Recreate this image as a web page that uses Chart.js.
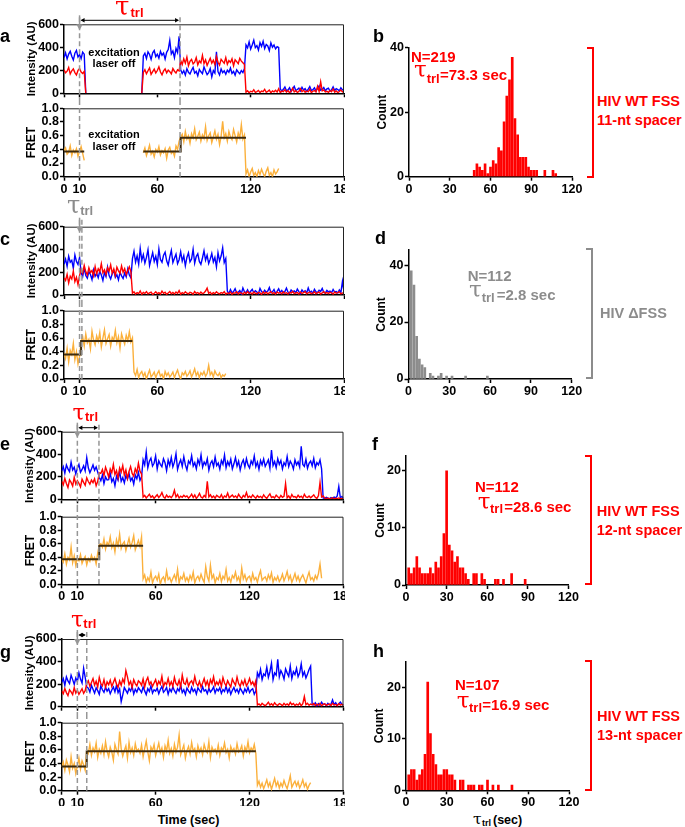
<!DOCTYPE html>
<html><head><meta charset="utf-8">
<script src="https://cdn.jsdelivr.net/npm/chart.js@4.4.1/dist/chart.umd.min.js"></script>
<style>
html,body{margin:0;padding:0;background:#fff;}
#fig{position:relative;width:685px;height:827px;overflow:hidden;font-family:"Liberation Sans",Arial,sans-serif;font-weight:bold;}
canvas{position:absolute;}
.t{position:absolute;white-space:nowrap;line-height:1;}
.br{position:absolute;box-sizing:border-box;border-left:none;}
</style></head><body><div id="fig"></div>
<script>
const _ = null;
const SAMPLE_SEC = 1;                 // trace sampling interval (s)
const timeTicks = [0,10,60,120,180];
const intTicks = [0,200,400,600];
const fretTicks = [0,0.2,0.4,0.6,0.8,1.0];
const histXTicks = [0,30,60,90,120];

// ---------- panel a ----------
const aBlue = [
310,352,298,341,365,322,289,348,372,315,
336,301,358,340,0,_,_,_,_,_,
_,_,_,_,_,_,_,_,_,_,
_,_,_,_,_,_,_,_,_,_,
_,_,_,_,_,_,_,_,_,_,
0,325,348,302,361,338,295,352,372,318,
340,306,365,331,349,298,356,380,460,343,
368,310,390,355,495,205,172,196,158,214,
183,168,201,226,175,190,152,208,187,171,
230,194,163,180,215,142,198,176,360,188,
160,212,179,195,166,201,183,220,172,190,
158,204,185,170,198,180,215,420,395,448,
385,420,462,398,415,376,440,408,452,390,
425,412,371,438,401,420,386,405,398,42,
18,35,55,22,30,48,15,38,60,25,
33,45,20,52,28,40,17,36,58,24,
31,47,19,42,65,27,35,50,22,38,
44,18,30,56,25,40,33,21,48,29,
35];
const aRed = [
205,178,192,225,168,196,212,180,160,199,
215,185,172,190,0,_,_,_,_,_,
_,_,_,_,_,_,_,_,_,_,
_,_,_,_,_,_,_,_,_,_,
_,_,_,_,_,_,_,_,_,_,
0,182,205,170,196,220,165,188,210,176,
198,230,185,160,195,212,178,202,188,168,
215,192,176,205,195,285,250,300,262,315,
240,278,295,255,270,310,248,282,265,330,
258,290,242,275,305,262,288,250,320,270,
245,296,278,262,310,252,284,268,300,240,
292,275,258,305,280,265,250,10,22,5,
18,12,30,8,15,25,6,20,14,35,
9,17,28,4,21,13,26,11,40,7,
19,15,32,10,24,6,18,45,12,22,
8,16,40,14,27,9,20,13,35,6,
18,24,11,60,15,100,22,30,12,17,
9,25,14,38,10,20,7,16,28,12,
18];
const aFret = [
.38,.42,.33,.36,.45,.31,.39,.35,.41,.30,
.37,.44,.34,.24,_,_,_,_,_,_,
_,_,_,_,_,_,_,_,_,_,
_,_,_,_,_,_,_,_,_,_,
_,_,_,_,_,_,_,_,_,_,
_,.35,.42,.31,.38,.46,.33,.37,.29,.40,
.36,.44,.32,.38,.35,.41,.27,.39,.43,.34,
.37,.30,.45,.40,.52,.58,.62,.51,.66,.55,
.60,.49,.63,.57,.70,.54,.59,.65,.52,.61,
.56,.73,.53,.60,.64,.50,.58,.67,.55,.62,
.47,.59,.81,.57,.63,.52,.66,.58,.54,.69,
.60,.51,.64,.57,.76,.55,.61,.04,.10,.00,
.07,.12,.02,.06,.00,.09,.03,.11,.05,.00,
.08,.13,.02,.06,.00,.10,.04,.07,.12];
const aFitT = [0,13,13,51,75,75,117];
const aFitV = [.37,.37,_,.37,.37,.57,.57];
const aMarks = [10,74.6];

// ---------- panel c ----------
const cBlue = [
270,315,252,340,288,305,236,352,295,268,
330,195,160,238,172,148,205,180,135,220,
165,190,152,210,175,128,198,162,245,170,
140,188,215,155,178,132,200,168,145,192,
160,230,175,150,320,385,290,345,270,410,
305,355,280,330,398,260,318,372,295,340,
268,405,312,288,350,376,300,262,335,392,
285,322,358,275,310,380,298,345,256,330,
370,290,315,402,280,338,362,295,270,325,
388,305,350,276,315,365,290,330,248,372,
300,342,415,285,320,35,12,48,20,30,
55,18,25,40,10,62,28,22,45,15,
33,50,20,38,26,12,58,30,18,42,
25,35,65,20,28,48,14,32,55,22,
40,18,30,60,25,15,44,28,36,20,
52,30,12,45,26,38,18,62,24,34,
15,50,28,20,42,32,58,22,16,40,
28,35,20,48,26,30,18,44,22,120,
30];
const cRed = [
150,128,182,105,165,140,210,118,155,92,
170,225,190,260,205,175,240,198,215,168,
250,185,230,205,275,195,222,180,240,210,
265,190,228,172,245,212,190,255,200,232,
178,215,248,205,15,28,8,20,12,35,
6,22,14,30,10,18,25,5,16,28,
12,20,8,34,15,24,6,18,30,11,
22,9,26,14,38,7,20,12,28,16,
10,24,18,6,30,14,22,9,26,12,
18,35,60,15,24,8,20,12,28,16,
10,22,14,30,8,18,12,25,6,20,
15,28,10,22,16,8,24,12,30,14,
20,9,26,15,11,22,18,6,28,13,
24,10,18,30,12,20,8,26,15,22,
11,28,14,20,9,24,16,32,12,18,
22,8,26,14,20,30,10,18,24,12,
16,28,11,20,25,9,18,30,14,22,
12,24,18,8,26,15,20,28,10,18,
14];
const cFret = [
.38,.30,.45,.25,.42,.36,.52,.28,.40,.22,
.33,.55,.62,.48,.66,.53,.58,.44,.70,.57,
.50,.63,.55,.68,.47,.60,.72,.52,.59,.65,
.48,.61,.57,.71,.53,.62,.45,.66,.58,.51,
.64,.56,.69,.54,.60,.10,.05,.14,.02,.08,
.11,.04,.09,.00,.07,.13,.03,.06,.10,.02,
.08,.12,.04,.07,.00,.11,.05,.09,.03,.06,
.10,.02,.08,.13,.05,.00,.09,.06,.11,.04,
.07,.12,.03,.08,.15,.05,.10,.02,.09,.06,
.11,.04,.08,.20,.06,.10,.03,.12,.07,.05,
.09,.02,.06,.04,.08];
const cFitT = [0,11,11,44];
const cFitV = [.36,.36,.555,.555];
const cMarks = [10,11.5];

// ---------- panel e ----------
const eBlue = [
250,290,232,305,270,245,330,260,285,225,
275,310,240,265,298,252,370,280,235,268,
305,258,288,242,195,165,215,140,198,172,
175,230,155,185,120,205,170,250,160,192,
145,210,178,230,165,190,135,215,182,240,
168,200,350,305,420,280,338,365,295,320,
385,270,342,310,290,360,325,255,348,300,
372,288,330,405,265,315,350,292,378,305,
260,340,315,388,295,325,270,352,310,395,
285,330,305,360,258,318,342,290,375,300,
322,268,345,310,392,280,335,300,355,270,
315,370,295,338,260,320,350,288,362,305,
278,340,310,385,290,330,265,345,305,358,
292,320,350,275,438,300,335,280,360,310,
345,270,325,300,380,290,338,312,268,350,
305,332,285,470,310,292,355,275,320,340,
298,362,280,325,305,350,270,12,8,18,
10,5,15,8,20,12,30,115,14,25,
8];
const eRed = [
160,128,185,140,105,172,150,118,195,135,
165,142,110,178,150,125,190,158,135,170,
148,182,120,160,235,230,265,210,285,245,
198,270,235,310,220,255,190,278,242,300,
215,260,185,248,290,230,205,272,235,320,
250,225,20,35,12,28,45,18,30,8,
25,40,15,32,60,22,10,38,18,28,
14,35,80,20,42,12,28,18,36,22,
30,10,24,45,16,38,8,26,52,20,
12,34,18,160,22,40,15,28,10,36,
24,16,42,8,30,20,55,14,26,38,
18,30,12,44,22,8,34,20,60,16,
28,14,38,22,10,32,18,26,12,40,
20,8,30,48,16,24,12,36,22,10,
34,18,26,140,14,30,8,42,20,24,
12,36,18,28,10,44,22,16,30,14,
26,40,18,8,32,150,20,30,10,6,
12,4,8,14,3,10,6,12,5,8,
6];
const eFret = [
.38,.33,.45,.30,.40,.36,.55,.32,.42,.28,
.39,.35,.44,.31,.37,.41,.29,.38,.34,.43,
.36,.40,.30,.46,.58,.60,.55,.67,.52,.62,
.58,.70,.54,.61,.48,.66,.57,.74,.53,.60,
.63,.50,.59,.68,.55,.62,.72,.51,.58,.65,
.56,.70,.08,.14,.03,.10,.05,.18,.02,.09,
.12,.06,.15,.00,.08,.11,.04,.20,.07,.10,
.03,.09,.14,.06,.22,.02,.11,.08,.16,.05,
.10,.04,.13,.07,.18,.02,.09,.12,.06,.15,
.08,.03,.26,.11,.05,.28,.09,.14,.02,.10,
.07,.16,.04,.12,.08,.22,.05,.10,.03,.13,
.09,.18,.06,.11,.02,.24,.08,.14,.05,.10,
.12,.04,.16,.07,.10,.03,.13,.20,.06,.09,
.11,.05,.14,.08,.17,.03,.10,.06,.12,.04,
.08,.15,.05,.11,.19,.07,.13,.03,.09,.16,
.06,.12,.04,.10,.14,.08,.02,.11,.18,.07,
.10,.05,.13,.08,.16,.30,.09];
const eFitT = [0,24,24,52];
const eFitV = [.37,.37,.57,.57];
const eMarks = [10,23.8];

// ---------- panel g ----------
const gBlue = [
215,250,190,265,228,205,280,240,198,255,
222,300,245,210,340,260,175,165,130,190,
155,120,168,142,110,185,150,128,172,138,
160,115,148,175,132,190,125,158,45,105,
170,145,120,162,138,180,112,155,130,168,
148,125,175,140,108,160,135,185,120,150,
138,165,115,152,180,128,145,170,110,158,
132,175,142,118,160,138,190,125,150,108,
165,140,120,172,135,155,112,168,145,128,
178,138,150,115,162,130,148,175,122,158,
140,168,118,152,135,180,128,160,110,145,
170,132,155,120,165,140,115,158,130,172,
125,148,160,110,138,300,265,330,240,290,
275,350,260,310,385,240,300,280,420,265,
320,290,245,335,300,270,360,250,310,285,
340,265,300,380,275,310,255,290,330,360,
20,15,35,8,28,12,40,18,25,10,
30,15,22,60,18,35,12,26,40,20,
15];
const gRed = [
140,115,160,125,98,150,132,108,170,120,
145,110,135,160,118,142,205,230,180,215,
250,190,225,175,260,205,185,240,170,220,
195,235,180,215,250,200,172,228,190,245,
210,320,265,195,225,170,240,205,185,230,
215,190,245,175,230,260,198,220,180,210,
240,185,225,200,270,178,215,195,250,188,
222,180,260,205,190,235,175,280,210,198,
245,182,215,230,195,268,205,185,225,175,
210,250,190,228,175,240,205,265,188,220,
195,235,180,258,210,185,230,200,175,245,
215,190,262,205,180,228,195,240,185,210,
250,198,220,185,230,15,25,10,30,18,
8,22,40,14,26,10,35,18,12,28,
20,9,30,15,24,12,38,18,28,10,
22,14,32,8,26,90,18,30,12,24,
16,28,10,22,14,30,8,20,26,12,
18,24,10,30,15,20,8,26,14,22,
12];
const gFret = [
.35,.42,.30,.45,.38,.28,.50,.33,.40,.25,
.36,.48,.32,.44,.38,.30,.60,.55,.68,.52,
.63,.57,.70,.49,.61,.55,.66,.53,.72,.58,
.50,.64,.57,.45,.68,.60,.54,.87,.62,.51,
.59,.66,.48,.71,.56,.63,.52,.69,.58,.61,
.55,.67,.50,.62,.73,.57,.44,.64,.59,.68,
.52,.61,.70,.56,.63,.49,.66,.58,.74,.55,
.62,.51,.68,.57,.64,.82,.53,.60,.67,.48,
.59,.65,.54,.71,.58,.62,.50,.66,.57,.63,
.53,.68,.60,.56,.72,.49,.64,.58,.61,.55,
.67,.52,.63,.59,.70,.56,.61,.48,.65,.58,
.62,.54,.69,.57,.60,.66,.51,.64,.58,.72,
.56,.63,.59,.68,.55,.08,.14,.05,.11,.03,
.09,.16,.06,.12,.02,.10,.18,.07,.13,.04,
.11,.06,.15,.08,.03,.12,.22,.05,.10,.14,
.07,.13,.04,.09,.16,.06,.11,.02,.08,.12];
const gFitT = [0,16,16,124];
const gFitV = [.355,.355,.58,.58];
const gMarks = [10,16];

// ---------- histograms (2-s bins, centre in s) ----------
const bBins = [48,50,52,54,56,58,60,62,64,66,68,70,72,74,76,78,80,82,84,86,88,90,92,94,100,106,108];
const bCounts = [2,4,3,2,4,1,3,5,4,9,8,17,25,30,37,18,13,6,6,6,3,2,2,2,2,2,1];
const dBins = [2,4,6,8,10,12,16,18,22,24,28,32,42,58];
const dCounts = [38,33,15,7,5,4,2,1,1,2,1,1,1,1];
const fBins = [2,4,6,8,10,12,14,16,18,20,22,24,26,28,30,32,34,36,38,40,42,44,46,50,52,56,58,66,68,72,78,88];
const fCounts = [3,2,3,5,3,2,2,2,3,2,4,3,5,9,20,7,6,4,5,3,3,2,1,2,2,2,1,1,1,1,2,1];
const hBins = [2,4,6,8,10,12,14,16,18,20,22,24,26,28,30,32,34,36,40,42,46,48,50,54,56,60,64,68,78];
const hCounts = [3,4,4,2,3,4,7,21,11,7,5,3,3,4,4,3,3,2,2,2,1,1,1,1,1,2,1,1,1];

// ================= drawing =================
const FAM = '"Liberation Sans", Arial, sans-serif';
Chart.defaults.font.family = FAM;
Chart.defaults.font.weight = 'bold';
Chart.defaults.font.size = 12.5;
Chart.defaults.color = '#000';

const RED = '#ff0000', BLUE = '#0000ff', ORANGE = '#fbb03b', FIT = '#3d2b0f', GRAY = '#8c8c8c', DASH = '#969696';
const TRACE_W = 1.4;
const fig = document.getElementById('fig');
const pts = arr => arr.map((v,i)=>({x:i*SAMPLE_SEC, y:v}));
const xy = (xs, ys) => xs.map((x,i)=>({x:x, y:ys[i]}));

function mkCanvas(g){
  const c = document.createElement('canvas');
  c.width = g.cw; c.height = g.ch;
  c.style.left = g.cl+'px'; c.style.top = g.ct+'px';
  c.style.width = g.cw+'px'; c.style.height = g.ch+'px';
  fig.appendChild(c); return c;
}
function axisStyle(){
  return {
    border:{display:true,color:'#000',width:1.5},
    grid:{display:true,drawOnChartArea:false,drawTicks:true,tickLength:4,tickWidth:1.5,tickColor:'#000',color:'#000',offset:false}
  };
}
function arrowHead(ctx, x, y, dx, dy, len, half){
  ctx.beginPath();
  ctx.moveTo(x, y);
  ctx.lineTo(x - dx*len - dy*half, y - dy*len + dx*half);
  ctx.lineTo(x - dx*len + dy*half, y - dy*len - dx*half);
  ctx.closePath(); ctx.fill();
}
function decor(marks, mode, dbl){
  return {id:'decor', afterDraw(chart){
    const ctx = chart.ctx, a = chart.chartArea, x = chart.scales.x;
    ctx.save();
    ctx.strokeStyle = '#222'; ctx.lineWidth = 1;
    ctx.beginPath(); ctx.moveTo(a.left, a.top+0.5); ctx.lineTo(a.right-0.5, a.top+0.5); ctx.lineTo(a.right-0.5, a.bottom); ctx.stroke();
    ctx.strokeStyle = DASH; ctx.lineWidth = 1.5; ctx.setLineDash([5,3]);
    marks.forEach(m=>{
      const px = x.getPixelForValue(m);
      ctx.beginPath();
      if (mode==='int'){ ctx.moveTo(px, a.top-7); ctx.lineTo(px, chart.height); }
      else { ctx.moveTo(px, 0); ctx.lineTo(px, a.bottom); }
      ctx.stroke();
    });
    ctx.setLineDash([]);
    if (mode==='int'){
      const p0 = x.getPixelForValue(marks[0]);
      ctx.strokeStyle = DASH; ctx.fillStyle = DASH; ctx.lineWidth = 1.5;
      ctx.beginPath(); ctx.moveTo(p0, a.top-9); ctx.lineTo(p0, a.top+1); ctx.stroke();
      arrowHead(ctx, p0, a.top+6, 0, 1, 6, 3.2);
      if (dbl){
        const p1 = x.getPixelForValue(marks[1]); const y = a.top-4;
        ctx.strokeStyle = '#000'; ctx.fillStyle = '#000'; ctx.lineWidth = 1;
        ctx.beginPath(); ctx.moveTo(p0+2, y); ctx.lineTo(p1-2, y); ctx.stroke();
        arrowHead(ctx, p0+1, y, -1, 0, 4, 2.3);
        arrowHead(ctx, p1-1, y, 1, 0, 4, 2.3);
      }
    }
    ctx.restore();
  }};
}
function traceChart(g, mode, datasets, marks, dbl, titlePad){
  const isInt = mode==='int';
  const ax = axisStyle(), ay = axisStyle();
  new Chart(mkCanvas(g), {
    type:'line',
    data:{datasets},
    options:{
      responsive:false, animation:false, events:[],
      layout:{padding:{left:0, top:g.T-g.ct, right:g.cl+g.cw-g.R, bottom:0}},
      plugins:{legend:{display:false}, tooltip:{enabled:false}},
      elements:{point:{radius:0}, line:{borderWidth:1, tension:0}},
      scales:{
        x:{type:'linear', min:0, max:180, border:ax.border, grid:ax.grid,
           afterBuildTicks:s=>{ s.ticks = timeTicks.map(v=>({value:v})); },
           afterFit:s=>{ s.height = g.ct+g.ch-g.B; s.paddingLeft=0; s.paddingRight=0; },
           ticks:{display:!isInt, padding:1, autoSkip:false, maxRotation:0, minRotation:0}},
        y:{type:'linear', min:0, max:isInt?600:1, border:ay.border, grid:ay.grid,
           afterBuildTicks:s=>{ s.ticks = (isInt?intTicks:fretTicks).map(v=>({value:v})); },
           afterFit:s=>{ s.width = g.L-g.cl; s.paddingTop=0; s.paddingBottom=0; },
           ticks:{padding:1, autoSkip:false, callback:v=> isInt ? String(v) : Number(v).toFixed(1)},
           title:{display:true, text:isInt?'Intensity (AU)':'FRET', color:'#000',
                  font:{size:isInt?11.5:12, weight:'bold', family:FAM}, padding:{top:titlePad, bottom:0}}}
      }
    },
    plugins:[decor(marks, mode, dbl)]
  });
}
function histChart(g, bins, counts, color, ymax, yTicks, titlePad){
  const ax = axisStyle(), ay = axisStyle();
  new Chart(mkCanvas(g), {
    type:'bar',
    data:{datasets:[{data:xy(bins, counts), backgroundColor:color, borderWidth:0, barThickness:2}]},
    options:{
      responsive:false, animation:false, events:[],
      layout:{padding:{left:0, top:g.T-g.ct, right:g.cl+g.cw-g.R, bottom:0}},
      plugins:{legend:{display:false}, tooltip:{enabled:false}},
      scales:{
        x:{type:'linear', min:0, max:120, offset:false, border:ax.border, grid:ax.grid,
           afterBuildTicks:s=>{ s.ticks = histXTicks.map(v=>({value:v})); },
           afterFit:s=>{ s.height = g.ct+g.ch-g.B; s.paddingLeft=0; s.paddingRight=0; },
           ticks:{padding:1, autoSkip:false, maxRotation:0, minRotation:0}},
        y:{type:'linear', min:0, max:ymax, border:ay.border, grid:ay.grid,
           afterBuildTicks:s=>{ s.ticks = yTicks.map(v=>({value:v})); },
           afterFit:s=>{ s.width = g.L-g.cl; s.paddingTop=0; s.paddingBottom=0; },
           ticks:{padding:1, autoSkip:false},
           title:{display:true, text:'Count', color:'#000', font:{size:12, weight:'bold', family:FAM}, padding:{top:titlePad, bottom:0}}}
      }
    }
  });
}
function sets(blue, red){
  return [
    {data:pts(red), borderColor:RED, borderWidth:TRACE_W, pointRadius:0, spanGaps:false},
    {data:pts(blue), borderColor:BLUE, borderWidth:TRACE_W, pointRadius:0, spanGaps:false}
  ];
}
function fsets(fret, fitT, fitV){
  return [
    {data:xy(fitT, fitV), borderColor:FIT, borderWidth:2, pointRadius:0, spanGaps:false},
    {data:pts(fret), borderColor:ORANGE, borderWidth:TRACE_W, pointRadius:0, spanGaps:false}
  ];
}

// row a / b
traceChart({cl:0,ct:10,cw:345,ch:90,L:64,T:24.3,R:344,B:93.3}, 'int', sets(aBlue,aRed), aMarks, true, 25);
traceChart({cl:0,ct:100,cw:345,ch:97,L:64,T:108.3,R:344,B:176.7}, 'fret', fsets(aFret,aFitT,aFitV), aMarks, false, 24.5);
histChart({cl:350,ct:30,cw:240,ch:167,L:409,T:47.7,R:572,B:176.7}, bBins, bCounts, RED, 40, [0,20,40], 25.3);
// row c / d
traceChart({cl:0,ct:210,cw:345,ch:92,L:64,T:226.7,R:344,B:295}, 'int', sets(cBlue,cRed), cMarks, false, 25);
traceChart({cl:0,ct:302,cw:345,ch:98,L:64,T:310.7,R:344,B:379}, 'fret', fsets(cFret,cFitT,cFitV), cMarks, false, 24.5);
histChart({cl:350,ct:230,cw:240,ch:170,L:408.5,T:250,R:571.7,B:379}, dBins, dCounts, GRAY, 45.3, [0,20,40], 24.8);
// row e / f
traceChart({cl:0,ct:415,cw:345,ch:92,L:61.7,T:431.7,R:343.5,B:499.3}, 'int', sets(eBlue,eRed), eMarks, true, 22.5);
traceChart({cl:0,ct:507,cw:345,ch:98,L:61.7,T:516.7,R:343.5,B:584.3}, 'fret', fsets(eFret,eFitT,eFitV), eMarks, false, 23.5);
histChart({cl:350,ct:436,cw:240,ch:169,L:406,T:456,R:568.5,B:585}, fBins, fCounts, RED, 22.6, [0,10,20], 23.5);
// row g / h
traceChart({cl:0,ct:622,cw:345,ch:92,L:61.7,T:639,R:343.5,B:706.7}, 'int', sets(gBlue,gRed), gMarks, true, 22.5);
traceChart({cl:0,ct:714,cw:345,ch:92,L:61.7,T:722.7,R:343.5,B:790.7}, 'fret', fsets(gFret,gFitT,gFitV), gMarks, false, 23.5);
histChart({cl:350,ct:640,cw:240,ch:166,L:406,T:661.5,R:569,B:790.3}, hBins, hCounts, RED, 25, [0,10,20], 22.8);

// ---------- text & decorations ----------
const SERIF = '"DejaVu Serif","Liberation Serif",serif';
function txt(s, x, base, size, color, o){
  o = o || {};
  const d = document.createElement('div');
  d.className = 't'; d.textContent = s;
  d.style.left = x+'px'; d.style.top = (base - 0.85*size)+'px';
  d.style.fontSize = size+'px'; d.style.color = color;
  if (o.serif){ d.style.fontFamily = SERIF; d.style.fontWeight = 'normal'; }
  if (o.center) d.style.transform = 'translateX(-50%)';
  fig.appendChild(d);
}
function tau(x, base, color, big, sub, subDx, subDy){
  txt('τ', x, base, big, color, {serif:true});
  txt('trl', x+subDx, base+subDy, sub, color);
}
function bracket(x, y1, y2, color){
  const d = document.createElement('div');
  d.className = 'br';
  d.style.left = (x-6)+'px'; d.style.top = (y1-1)+'px';
  d.style.width = '7px'; d.style.height = (y2-y1+2)+'px';
  d.style.border = '2px solid '+color; d.style.borderLeft = 'none';
  fig.appendChild(d);
}
// panel letters
txt('a', 0, 42.7, 18, '#000'); txt('b', 373, 42.7, 18, '#000');
txt('c', 0, 245, 18, '#000'); txt('d', 375, 244.3, 18, '#000');
txt('e', 0, 450.7, 18, '#000'); txt('f', 372, 450.7, 18, '#000');
txt('g', 0, 658.5, 18, '#000'); txt('h', 373, 657.7, 18, '#000');
// tau_trl annotations on traces
tau(115, 15.5, RED, 26, 13, 15.5, 2);
tau(67, 213, GRAY, 24, 13, 13.2, 2);
tau(72.5, 420, RED, 22.5, 13, 12.5, 1);
tau(71, 627.3, RED, 22.5, 13, 12.3, 1);
// excitation laser off
txt('excitation', 114, 56, 11, '#000', {center:true}); txt('laser off', 114, 67.7, 11, '#000', {center:true});
txt('excitation', 114, 138.3, 11, '#000', {center:true}); txt('laser off', 114, 150.7, 11, '#000', {center:true});
// histogram stats
txt('N=219', 411, 62, 15, RED); tau(414, 78, RED, 23, 13, 12.7, 5); txt('=73.3 sec', 440, 80, 15, RED);
txt('N=112', 467.7, 281, 15, GRAY); tau(469, 298, GRAY, 23, 13, 12.7, 3.7); txt('=2.8 sec', 496.7, 300, 15, GRAY);
txt('N=112', 475, 492, 15, RED); tau(477.7, 510, RED, 23, 13, 12.3, 3); txt('=28.6 sec', 504.3, 511.7, 15, RED);
txt('N=107', 455, 690, 15, RED); tau(456.7, 709, RED, 23, 13, 12.3, 3); txt('=16.9 sec', 482.3, 710, 15, RED);
// brackets + construct labels
bracket(593, 47.7, 176.7, RED); txt('HIV WT FSS', 597, 106, 14.5, RED); txt('11-nt spacer', 597, 125, 14.5, RED);
bracket(592, 248.7, 378.3, GRAY); txt('HIV ΔFSS', 600, 318, 14.5, GRAY);
bracket(590.7, 456, 584.3, RED); txt('HIV WT FSS', 596.7, 516, 14.5, RED); txt('12-nt spacer', 596.7, 535, 14.5, RED);
bracket(591, 660.7, 790.3, RED); txt('HIV WT FSS', 597, 721.7, 14.5, RED); txt('13-nt spacer', 597, 740.7, 14.5, RED);
// x titles
txt('Time (sec)', 188.5, 824.5, 12.5, '#000', {center:true});
txt('τ', 473, 825, 15.5, '#000', {serif:true}); txt('trl', 482, 826.5, 9, '#000'); txt('(sec)', 493, 824.5, 12.5, '#000');
</script>
</body></html>
